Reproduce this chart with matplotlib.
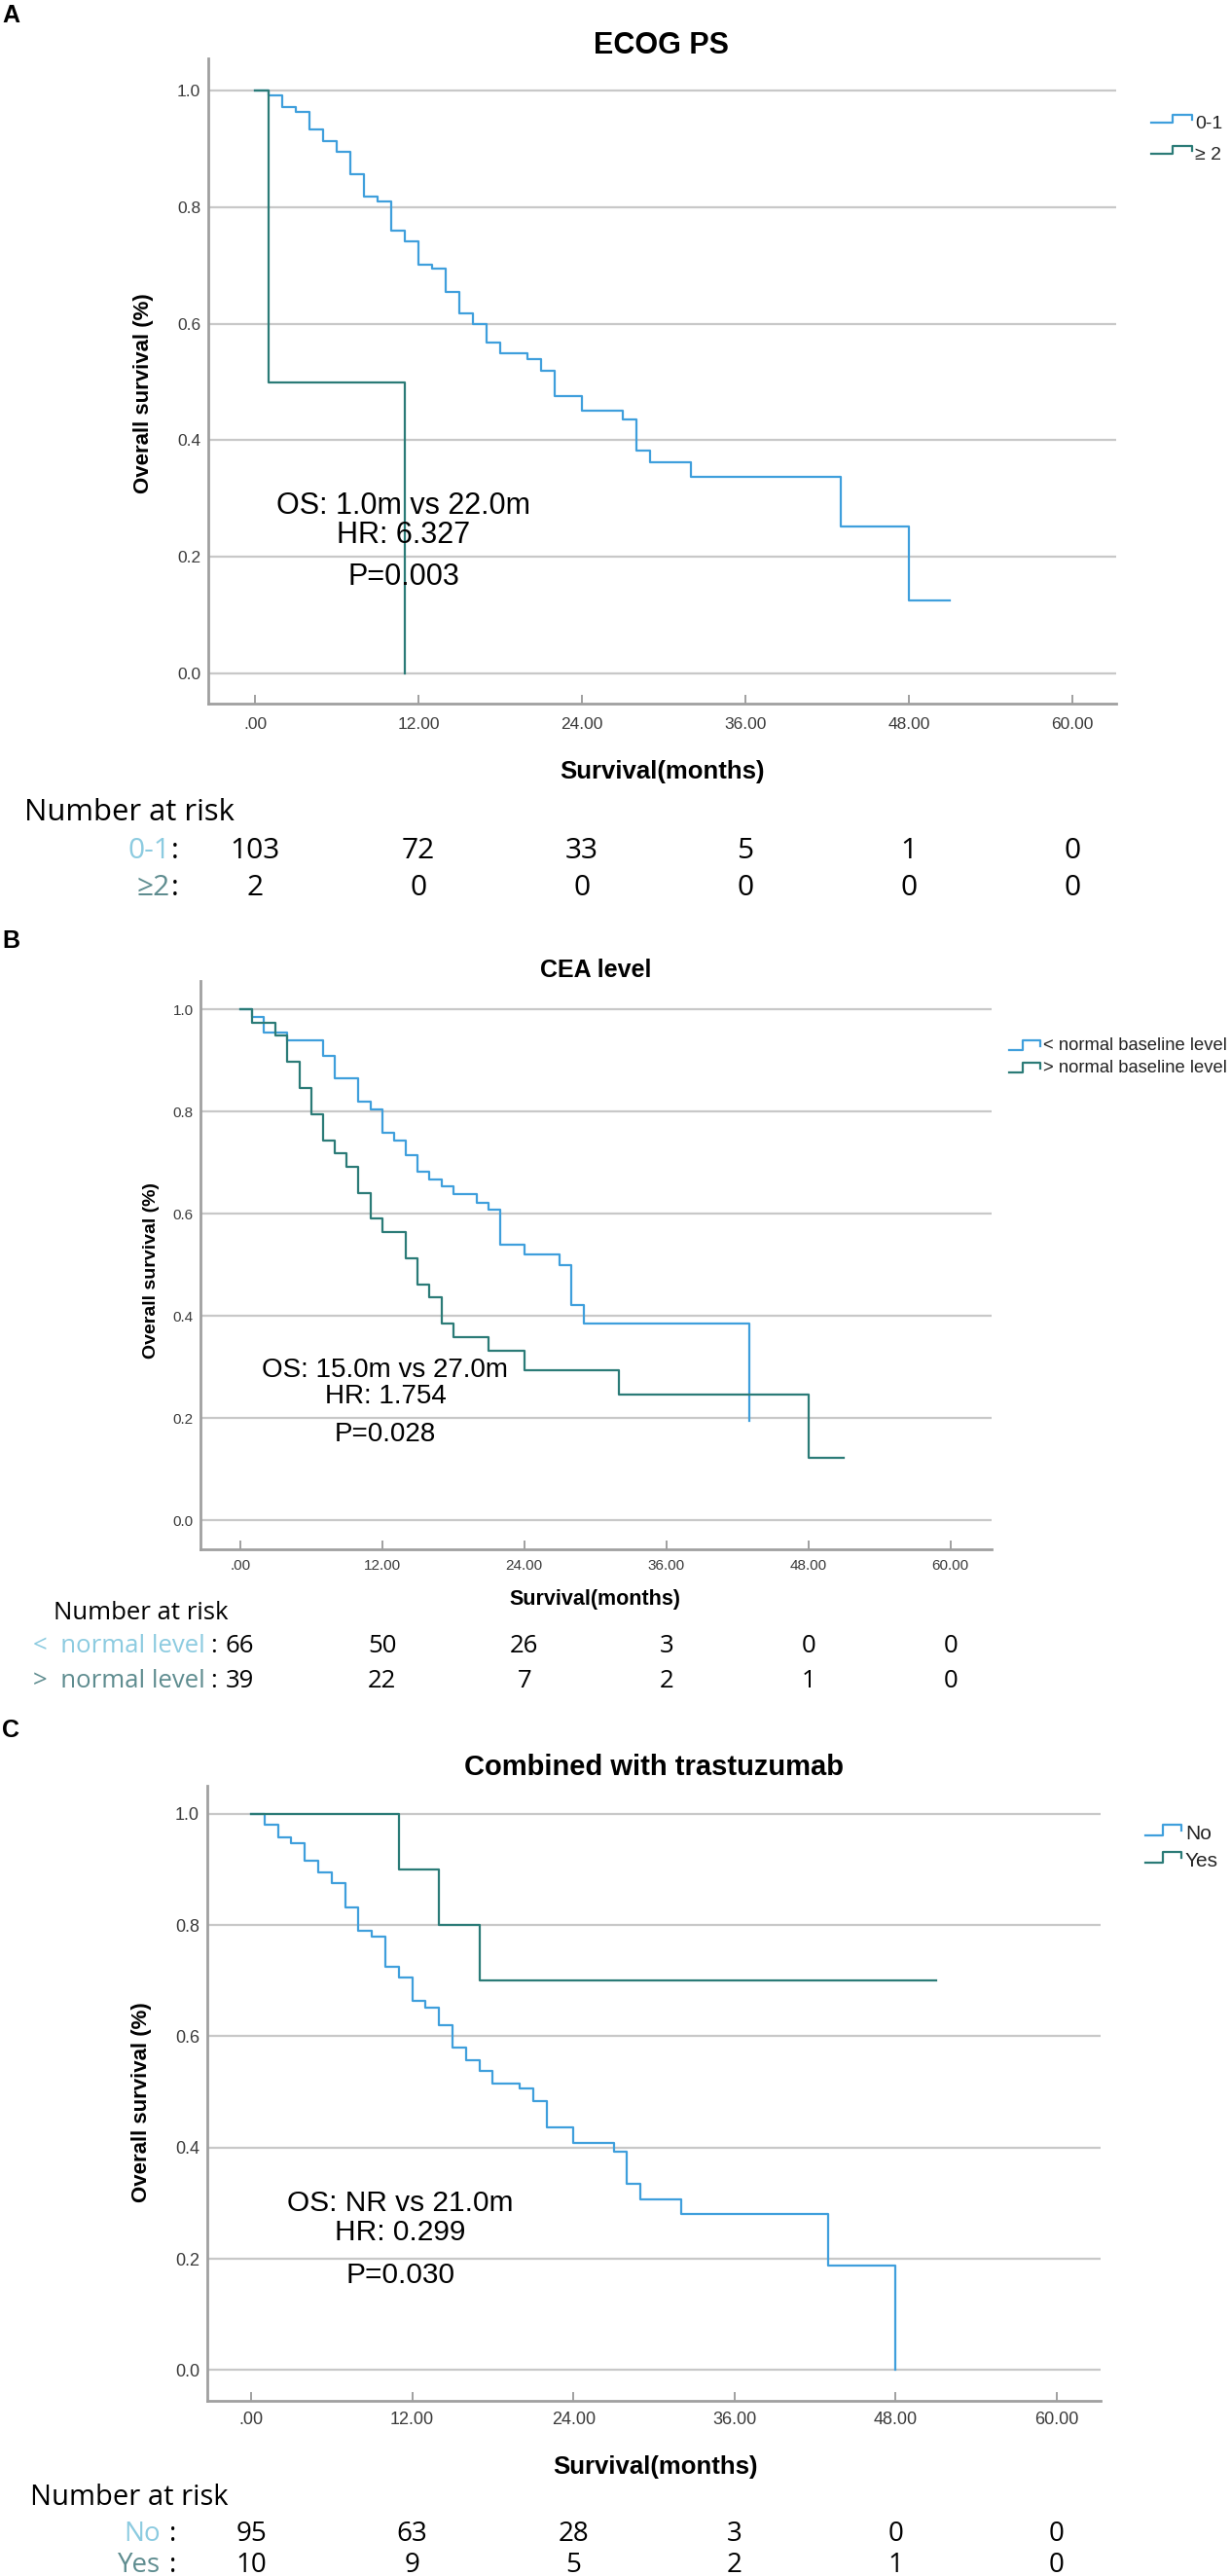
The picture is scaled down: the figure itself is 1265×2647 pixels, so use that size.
import matplotlib
matplotlib.use("Agg")
import matplotlib.pyplot as plt
from matplotlib.lines import Line2D
from matplotlib.transforms import Affine2D

# ---------------- data ----------------
tick_months = [0, 12, 24, 36, 48, 60]
tick_labels = [".00", "12.00", "24.00", "36.00", "48.00", "60.00"]
y_ticks = [0.0, 0.2, 0.4, 0.6, 0.8, 1.0]
y_tick_labels = ["0.0", "0.2", "0.4", "0.6", "0.8", "1.0"]

# Panel A: ECOG PS
a_low_t = [0, 1, 2, 3, 4, 5, 6, 7, 8, 9, 10, 11, 12, 13, 14, 15, 16, 17, 18, 20,
           21, 22, 24, 27, 28, 29, 32, 43, 48, 51]
a_low_s = [1.0, 0.991, 0.972, 0.963, 0.933, 0.914, 0.895, 0.856, 0.818, 0.809,
           0.760, 0.742, 0.702, 0.694, 0.655, 0.617, 0.599, 0.568, 0.549, 0.539,
           0.519, 0.475, 0.450, 0.435, 0.382, 0.362, 0.337, 0.252, 0.126, 0.126]
a_high_t = [0, 1, 11]
a_high_s = [1.0, 0.5, 0.0]
a_risk_low = [103, 72, 33, 5, 1, 0]
a_risk_high = [2, 0, 0, 0, 0, 0]

# Panel B: CEA level
b_low_t = [0, 1, 2, 4, 7, 8, 10, 11, 12, 13, 14, 15, 16, 17, 18, 20, 21, 22, 24,
           27, 28, 29, 43]
b_low_s = [1.0, 0.985, 0.955, 0.940, 0.910, 0.865, 0.820, 0.804, 0.759, 0.744,
           0.714, 0.683, 0.667, 0.653, 0.638, 0.622, 0.608, 0.540, 0.521, 0.500,
           0.421, 0.386, 0.194]
b_high_t = [0, 1, 3, 4, 5, 6, 7, 8, 9, 10, 11, 12, 14, 15, 16, 17, 18, 21, 24,
            32, 48, 51]
b_high_s = [1.0, 0.974, 0.949, 0.897, 0.846, 0.795, 0.744, 0.718, 0.692, 0.641,
            0.590, 0.564, 0.513, 0.462, 0.436, 0.385, 0.359, 0.331, 0.293, 0.245,
            0.122, 0.122]
b_risk_low = [66, 50, 26, 3, 0, 0]
b_risk_high = [39, 22, 7, 2, 1, 0]

# Panel C: Combined with trastuzumab
c_no_t = [0, 1, 2, 3, 4, 5, 6, 7, 8, 9, 10, 11, 12, 13, 14, 15, 16, 17, 18, 20,
          21, 22, 24, 27, 28, 29, 32, 43, 48]
c_no_s = [1.0, 0.981, 0.957, 0.947, 0.916, 0.895, 0.875, 0.831, 0.789, 0.779,
          0.725, 0.705, 0.664, 0.652, 0.620, 0.579, 0.557, 0.537, 0.515, 0.506,
          0.484, 0.436, 0.409, 0.392, 0.334, 0.307, 0.280, 0.187, 0.0]
c_yes_t = [0, 11, 14, 17, 51]
c_yes_s = [1.0, 0.9, 0.8, 0.7, 0.7]
c_risk_no = [95, 63, 28, 3, 0, 0]
c_risk_yes = [10, 9, 5, 2, 1, 0]

# ---------------- style ----------------
W, H = 1265, 2647
BLUE = "#3f9fdc"
GREEN = "#2b7b77"
LBL_BLUE = "#8ccbe0"
LBL_GREEN = "#5e8c8f"
GRID = "#c8c8c8"
SPINE = "#a0a0a0"
ARIAL = ["Liberation Sans", "DejaVu Sans"]
RISKF = ["Open Sans", "DejaVu Sans"]

fig = plt.figure(figsize=(W / 100, H / 100), dpi=100)
fig.patch.set_facecolor("white")
pxT = Affine2D().scale(1.0 / W, -1.0 / H).translate(0, 1) + fig.transFigure


def ftext(x, y, s, **kw):
    kw.setdefault("va", "center")
    return fig.text(x / W, 1 - y / H, s, **kw)


def handle(xs, ys, color):
    fig.add_artist(Line2D(xs, ys, color=color, lw=1.6, transform=pxT))


def make_panel(box, x0px, pxm, y1px, y0px, tick_fs, pad_x, pad_y):
    l, t, r, b = box
    ax = fig.add_axes([l / W, 1 - b / H, (r - l) / W, (b - t) / H])
    ax.set_xlim((l - x0px) / pxm, (r - x0px) / pxm)
    unit = y0px - y1px
    ax.set_ylim((y0px - b) / unit, (y0px - t) / unit)
    for s in ["top", "right"]:
        ax.spines[s].set_visible(False)
    for s in ["left", "bottom"]:
        ax.spines[s].set_color(SPINE)
        ax.spines[s].set_linewidth(2.0)
    ax.set_xticks(tick_months)
    ax.set_xticklabels(tick_labels, fontsize=tick_fs, family=ARIAL, color="#3a3a3a")
    ax.set_yticks(y_ticks)
    ax.set_yticklabels(y_tick_labels, fontsize=tick_fs, family=ARIAL, color="#3a3a3a")
    ax.tick_params(axis="x", direction="in", length=6.5, width=1.4, color=SPINE, pad=pad_x)
    ax.tick_params(axis="y", length=0, pad=pad_y)
    ax.yaxis.grid(True, color=GRID, lw=1.6)
    ax.set_axisbelow(True)
    return ax


# ================= Panel A =================
ax = make_panel((214, 60, 1147, 723), 262, 14.0, 93, 692, 12.5, 10, 5.5)
ax.step(a_low_t, a_low_s, where="post", color=BLUE, lw=1.6)
ax.step(a_high_t, a_high_s, where="post", color=GREEN, lw=1.6)
ax.text(10.9, 0.287, "OS: 1.0m vs 22.0m", ha="center", va="center", fontsize=22, family=ARIAL)
ax.text(10.9, 0.237, "HR: 6.327", ha="center", va="center", fontsize=22, family=ARIAL)
ax.text(10.9, 0.165, "P=0.003", ha="center", va="center", fontsize=22, family=ARIAL)

ftext(2, 16, "A", fontsize=18, weight="bold", family=ARIAL)
ftext(680, 47, "ECOG PS", fontsize=22, weight="bold", family=ARIAL, ha="center")
ftext(680, 793, "Survival(months)", fontsize=18.5, weight="bold", family=ARIAL, ha="center")
ftext(147, 404, "Overall survival (%)", fontsize=16, weight="bold", family=ARIAL,
      ha="center", rotation=90)
handle([1183, 1205, 1205, 1225, 1225], [126, 126, 118, 118, 123], BLUE)
handle([1183, 1205, 1205, 1225, 1225], [158, 158, 150, 150, 155], GREEN)
ftext(1228, 128, "0-1", fontsize=14, family=ARIAL, color="#222222")
ftext(1228, 160, "≥ 2", fontsize=14, family=ARIAL, color="#222222")

ftext(25, 835, "Number at risk", fontsize=22.3, family=RISKF)
ftext(175, 875, "0-1", fontsize=21.5, family=RISKF, color=LBL_BLUE, ha="right")
ftext(176, 875, ":", fontsize=21.5, family=RISKF)
ftext(175, 912, "≥2", fontsize=21.5, family=RISKF, color=LBL_GREEN, ha="right")
ftext(176, 912, ":", fontsize=21.5, family=RISKF)
for i, m in enumerate(tick_months):
    xp = 262 + 14.0 * m
    ftext(xp, 875, str(a_risk_low[i]), fontsize=21.5, family=RISKF, ha="center")
    ftext(xp, 912, str(a_risk_high[i]), fontsize=21.5, family=RISKF, ha="center")

# ================= Panel B =================
bx0, bpm = 246.7, 146.0 / 12
ax = make_panel((205.5, 1008, 1019, 1592), bx0, bpm, 1037.4, 1562, 11, 7, 5)
ax.step(b_low_t, b_low_s, where="post", color=BLUE, lw=1.6)
ax.step(b_high_t, b_high_s, where="post", color=GREEN, lw=1.6)
ax.text(12.27, 0.294, "OS: 15.0m vs 27.0m", ha="center", va="center", fontsize=20, family=ARIAL)
ax.text(12.27, 0.242, "HR: 1.754", ha="center", va="center", fontsize=20, family=ARIAL)
ax.text(12.27, 0.168, "P=0.028", ha="center", va="center", fontsize=20, family=ARIAL)

ftext(2, 967, "B", fontsize=18, weight="bold", family=ARIAL)
ftext(612, 997, "CEA level", fontsize=18, weight="bold", family=ARIAL, ha="center")
ftext(611, 1643, "Survival(months)", fontsize=15.5, weight="bold", family=ARIAL, ha="center")
ftext(155, 1305, "Overall survival (%)", fontsize=14, weight="bold", family=ARIAL,
      ha="center", rotation=90)
handle([1037, 1051, 1051, 1069, 1069], [1079, 1079, 1069, 1069, 1075], BLUE)
handle([1037, 1051, 1051, 1069, 1069], [1102, 1102, 1092, 1092, 1098], GREEN)
ftext(1072, 1075, "< normal baseline level", fontsize=13.2, family=ARIAL, color="#222222")
ftext(1072, 1098, "> normal baseline level", fontsize=13.2, family=ARIAL, color="#222222")

ftext(55, 1658, "Number at risk", fontsize=18.5, family=RISKF)
ftext(211, 1692, "<  normal level", fontsize=18.5, family=RISKF, color=LBL_BLUE, ha="right")
ftext(216, 1692, ":", fontsize=18.5, family=RISKF)
ftext(211, 1727, ">  normal level", fontsize=18.5, family=RISKF, color=LBL_GREEN, ha="right")
ftext(216, 1727, ":", fontsize=18.5, family=RISKF)
for i, m in enumerate(tick_months):
    xp = bx0 + bpm * m
    ftext(xp, 1692, str(b_risk_low[i]), fontsize=18.5, family=RISKF, ha="center")
    ftext(xp, 1727, str(b_risk_high[i]), fontsize=18.5, family=RISKF, ha="center")

# ================= Panel C =================
cx0, cpm = 258.0, 165.6 / 12
ax = make_panel((212.6, 1834.7, 1131, 2467), cx0, cpm, 1863.8, 2435.3, 13, 8, 5.5)
ax.step(c_no_t, c_no_s, where="post", color=BLUE, lw=1.6)
ax.step(c_yes_t, c_yes_s, where="post", color=GREEN, lw=1.6)
ax.text(11.09, 0.300, "OS: NR vs 21.0m", ha="center", va="center", fontsize=21.5, family=ARIAL)
ax.text(11.09, 0.247, "HR: 0.299", ha="center", va="center", fontsize=21.5, family=ARIAL)
ax.text(11.09, 0.170, "P=0.030", ha="center", va="center", fontsize=21.5, family=ARIAL)

ftext(2, 1778, "C", fontsize=18, weight="bold", family=ARIAL)
ftext(672, 1816, "Combined with trastuzumab", fontsize=21, weight="bold", family=ARIAL, ha="center")
ftext(673, 2535, "Survival(months)", fontsize=18.5, weight="bold", family=ARIAL, ha="center")
ftext(145, 2160, "Overall survival (%)", fontsize=16, weight="bold", family=ARIAL,
      ha="center", rotation=90)
handle([1177, 1195, 1195, 1214, 1214], [1886, 1886, 1875, 1875, 1881], BLUE)
handle([1177, 1195, 1195, 1214, 1214], [1914, 1914, 1903, 1903, 1909], GREEN)
ftext(1218, 1885, "No", fontsize=15, family=ARIAL, color="#222222")
ftext(1218, 1913, "Yes", fontsize=15, family=ARIAL, color="#222222")

ftext(31, 2567, "Number at risk", fontsize=21, family=RISKF)
ftext(165, 2604, "No", fontsize=20, family=RISKF, color=LBL_BLUE, ha="right")
ftext(174, 2604, ":", fontsize=20, family=RISKF)
ftext(165, 2636, "Yes", fontsize=20, family=RISKF, color=LBL_GREEN, ha="right")
ftext(174, 2636, ":", fontsize=20, family=RISKF)
for i, m in enumerate(tick_months):
    xp = cx0 + cpm * m
    ftext(xp, 2604, str(c_risk_no[i]), fontsize=20, family=RISKF, ha="center")
    ftext(xp, 2636, str(c_risk_yes[i]), fontsize=20, family=RISKF, ha="center")

fig.savefig("out.png", dpi=100, facecolor="white")
